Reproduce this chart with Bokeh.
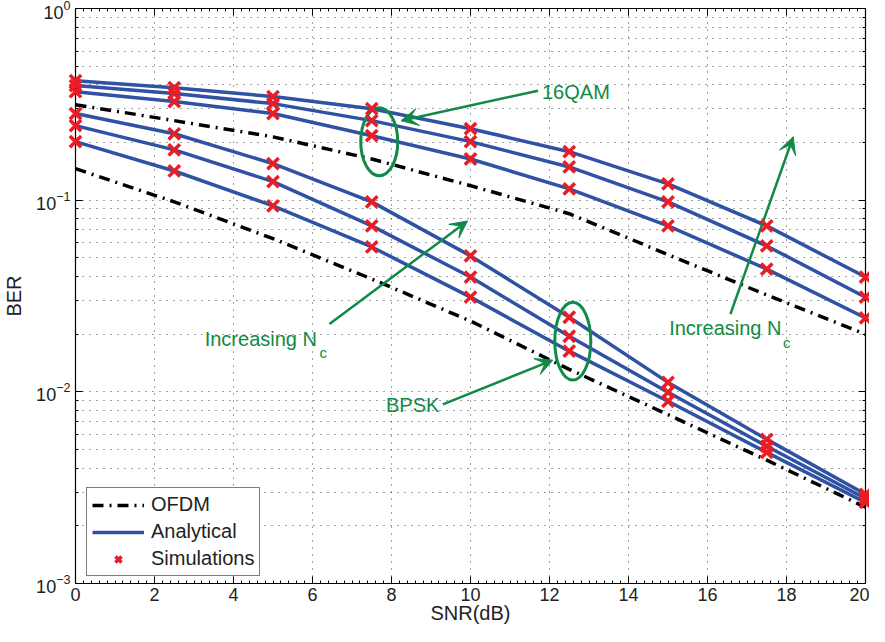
from bokeh.plotting import figure
from bokeh.models import (FixedTicker, LogTickFormatter, Legend, LegendItem, Arrow,
                          VeeHead, LinearAxis, Label, CustomJSTickFormatter)
from bokeh.embed import file_html
from bokeh.resources import INLINE

# ---------------- data ----------------
snr = [0, 2.5, 5, 7.5, 10, 12.5, 15, 17.5, 20]

ofdm_16qam = [0.315, 0.26, 0.214, 0.164, 0.119, 0.085, 0.052, 0.032, 0.020]
qam_nc1 = [0.368, 0.327, 0.283, 0.217, 0.164, 0.1146, 0.0734, 0.0437, 0.0243]
qam_nc2 = [0.396, 0.360, 0.319, 0.260, 0.202, 0.149, 0.098, 0.0577, 0.0312]
qam_nc3 = [0.420, 0.386, 0.347, 0.300, 0.236, 0.179, 0.1217, 0.0734, 0.0397]

ofdm_bpsk = [0.146, 0.098, 0.063, 0.0388, 0.0234, 0.0131, 0.0076, 0.0044, 0.0025]
bpsk_nc1 = [0.202, 0.142, 0.0933, 0.057, 0.0312, 0.0163, 0.00893, 0.00483, 0.00265]
bpsk_nc2 = [0.245, 0.183, 0.125, 0.0734, 0.0397, 0.0195, 0.00995, 0.0052, 0.00278]
bpsk_nc3 = [0.283, 0.222, 0.155, 0.098, 0.0512, 0.0245, 0.0112, 0.00565, 0.00292]

x_ticks = [0, 2, 4, 6, 8, 10, 12, 14, 16, 18, 20]
y_ticks = [1e-3, 1e-2, 1e-1, 1e0]

# ---------------- styles ----------------
BLUE = "#2f52a4"
RED = "#ec1c24"
GREEN = "#108a45"
FONT = "Liberation Sans"

p = figure(width=869, height=626, x_range=(0, 20), y_range=(1e-3, 1),
           y_axis_type="log", output_backend="svg", toolbar_location=None,
           min_border_left=69, min_border_right=4, min_border_top=8,
           min_border_bottom=40)
p.outline_line_color = "black"
p.outline_line_width = 1.2
p.background_fill_color = "white"

minor_x = [i * 0.2 for i in range(101) if i % 10 != 0]
minor_y = [m * 10.0 ** e for e in (-3, -2, -1) for m in range(2, 10)]
xt = FixedTicker(ticks=x_ticks, minor_ticks=minor_x)
yt = FixedTicker(ticks=y_ticks, minor_ticks=minor_y)

p.xaxis.ticker = xt
p.yaxis.ticker = yt
p.yaxis.formatter = LogTickFormatter()
p.xgrid.ticker = FixedTicker(ticks=x_ticks)
p.ygrid.ticker = yt

for ax in (p.xaxis[0], p.yaxis[0]):
    ax.axis_line_color = "black"
    ax.major_tick_in = 7
    ax.major_tick_out = 0
    ax.minor_tick_in = 3
    ax.minor_tick_out = 0
    ax.major_tick_line_color = "black"
    ax.minor_tick_line_color = "black"
    ax.major_label_text_font = FONT
    ax.major_label_text_font_size = "18px"
    ax.major_label_text_color = "#222222"
    ax.axis_label_text_font = FONT
    ax.axis_label_text_font_size = "20px"
    ax.axis_label_text_font_style = "normal"
    ax.axis_label_text_color = "#222222"
p.xaxis.axis_label = "SNR(dB)"
p.yaxis.axis_label = "BER"
p.xaxis.major_label_standoff = 4
p.xaxis.axis_label_standoff = -2
p.yaxis.major_label_standoff = 5
p.yaxis.axis_label_standoff = 8

# top and right tick-only axes (box)
blank = CustomJSTickFormatter(code="return ''")
top = LinearAxis(ticker=xt, formatter=blank, major_tick_in=7, major_tick_out=0,
                 minor_tick_in=3, minor_tick_out=0, major_label_text_font_size="1px",
                 major_label_text_color=None, major_label_standoff=0,
                 axis_label_standoff=0, axis_line_color="black")
right = LinearAxis(ticker=yt, formatter=blank, major_tick_in=7, major_tick_out=0,
                   minor_tick_in=3, minor_tick_out=0, major_label_text_font_size="1px",
                   major_label_text_color=None, major_label_standoff=0,
                   axis_label_standoff=0, axis_line_color="black")
p.add_layout(top, "above")
p.add_layout(right, "right")

for g in (p.xgrid[0], p.ygrid[0]):
    g.grid_line_color = "#444444"
    g.grid_line_dash = "1 6"
    g.grid_line_width = 1
p.ygrid.minor_grid_line_color = "#444444"
p.ygrid.minor_grid_line_dash = "1 6"
p.ygrid.minor_grid_line_width = 1

# ---------------- curves ----------------
dashdot = "11 6 2 6"
r_ofdm = p.line(snr, ofdm_16qam, line_color="black", line_width=3.5, line_dash=dashdot)
p.line(snr, ofdm_bpsk, line_color="black", line_width=3.5, line_dash=dashdot)

r_an = None
for series in (qam_nc1, qam_nc2, qam_nc3, bpsk_nc1, bpsk_nc2, bpsk_nc3):
    r = p.line(snr, series, line_color=BLUE, line_width=3.5)
    if r_an is None:
        r_an = r

r_sim = None
for series in (qam_nc1, qam_nc2, qam_nc3, bpsk_nc1, bpsk_nc2, bpsk_nc3):
    r = p.scatter(snr, series, marker="x", size=16, line_color=RED, line_width=3.5,
                  level="overlay")
    if r_sim is None:
        r_sim = r

# ---------------- annotations ----------------
p.ellipse(x=[7.69], y=[0.2017], width=37, height=68, width_units="screen",
          height_units="screen", fill_color=None, line_color=GREEN, line_width=3)
p.ellipse(x=[12.59], y=[0.01838], width=36, height=78, width_units="screen",
          height_units="screen", fill_color=None, line_color=GREEN, line_width=3)

arrows = [
    (11.71, 0.3726, 8.24, 0.2598),
    (6.43, 0.02256, 9.925, 0.0779),
    (9.30, 0.00861, 12.085, 0.01463),
    (16.58, 0.02545, 18.17, 0.2143),
]
for xs, ys, xe, ye in arrows:
    p.add_layout(Arrow(end=VeeHead(size=17, fill_color=GREEN, line_color=GREEN, line_width=1),
                       x_start=xs, y_start=ys, x_end=xe, y_end=ye,
                       line_color=GREEN, line_width=2.5))

texts = [
    ("16QAM", 11.81, 0.368, "20px"),
    ("Increasing N", 3.27, 0.01884, "20px"),
    ("c", 6.18, 0.0161, "15px"),
    ("Increasing N", 15.03, 0.0215, "20px"),
    ("c", 17.91, 0.01816, "15px"),
    ("BPSK", 7.86, 0.00851, "20px"),
]
for t, tx, ty, fs in texts:
    p.add_layout(Label(x=tx, y=ty, text=t, text_font=FONT, text_font_size=fs,
                       text_color=GREEN, text_align="left", text_baseline="middle"))

legend = Legend(items=[LegendItem(label="OFDM", renderers=[r_ofdm]),
                       LegendItem(label="Analytical", renderers=[r_an]),
                       LegendItem(label="Simulations", renderers=[r_sim])],
                location=(11, 7))
legend.border_line_color = "black"
legend.border_line_width = 1.5
legend.background_fill_color = "white"
legend.background_fill_alpha = 1
legend.label_text_font = FONT
legend.label_text_font_size = "20px"
legend.label_text_color = "#222222"
legend.glyph_width = 52
legend.glyph_height = 22
legend.label_height = 22
legend.label_standoff = 7
legend.spacing = 4
legend.padding = 5
legend.margin = 0
p.add_layout(legend)

open("out.html", "w").write(file_html(p, INLINE))
